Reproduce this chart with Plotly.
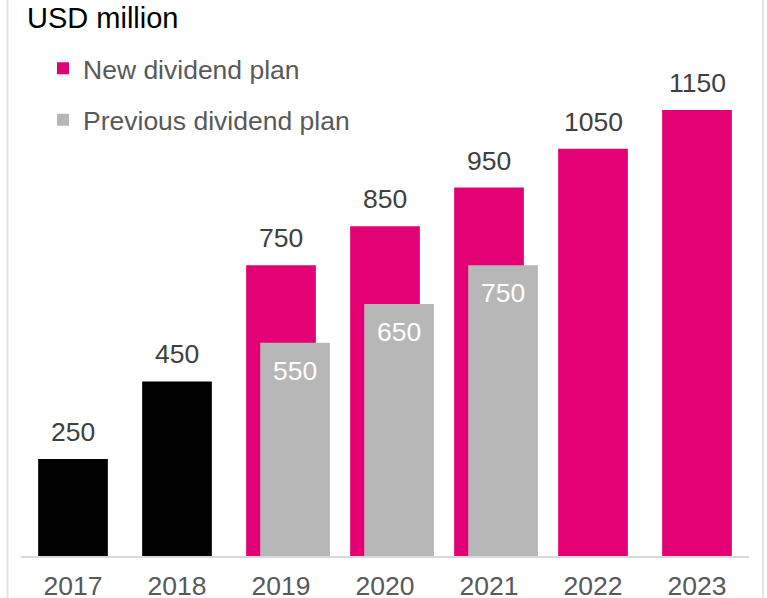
import plotly.graph_objects as go

years = [2017, 2018, 2019, 2020, 2021, 2022, 2023]
actual_years = [2017, 2018]
actual_values = [250, 450]
new_years = [2019, 2020, 2021, 2022, 2023]
new_values = [750, 850, 950, 1050, 1150]
prev_years = [2019, 2020, 2021]
prev_values = [550, 650, 750]
tick_labels = ["2017", "2018", "2019", "2020", "2021", "2022", "2023"]

MAGENTA = "#E20074"
GREY = "#B7B7B7"
FONT = "Liberation Sans, Arial, sans-serif"
BW = 0.67
SHIFT = 0.135
FS = 26.5

fig = go.Figure()
fig.add_trace(go.Bar(x=actual_years, y=actual_values, width=BW, marker_color="#000000",
                     marker_line_width=0, showlegend=False, name="Actual"))
fig.add_trace(go.Bar(x=new_years, y=new_values, width=BW, marker_color=MAGENTA,
                     marker_line_width=0, name="New dividend plan", legendgroup="a"))
fig.add_trace(go.Bar(x=prev_years, y=prev_values, width=BW, offset=-BW / 2 + SHIFT,
                     marker_color=GREY, marker_line_width=0,
                     name="Previous dividend plan", legendgroup="b"))

annotations = []
for xs, vs in ((actual_years, actual_values), (new_years, new_values)):
    for x, v in zip(xs, vs):
        annotations.append(dict(x=x, y=v, text=str(v), showarrow=False, yanchor="bottom",
                                yshift=10, font=dict(size=FS, color="#404040", family=FONT)))
for x, v in zip(prev_years, prev_values):
    annotations.append(dict(x=x + SHIFT, y=v, text=str(v), showarrow=False, yanchor="top",
                            yshift=-11, font=dict(size=FS, color="#FFFFFF", family=FONT)))
annotations.append(dict(xref="paper", yref="paper", x=(25 - 21) / 728, y=1.0,
                        xanchor="left", yanchor="top", yshift=0, text="USD million",
                        showarrow=False, font=dict(size=29, color="#000000", family=FONT)))

shapes = [
    dict(type="line", xref="paper", yref="paper", x0=(7.5 - 21) / 728, x1=(7.5 - 21) / 728,
         y0=-0.1, y1=1.05, line=dict(color="#E3E3E3", width=2)),
    dict(type="line", xref="paper", yref="paper", x0=(763 - 21) / 728, x1=(763 - 21) / 728,
         y0=-0.1, y1=1.05, line=dict(color="#E3E3E3", width=2)),
]

fig.update_layout(
    width=767, height=598,
    margin=dict(l=21, r=18, t=0, b=42, autoexpand=False),
    barmode="overlay",
    plot_bgcolor="white", paper_bgcolor="white",
    font=dict(family=FONT, size=FS, color="#595959"),
    xaxis=dict(range=[2016.5, 2023.5], tickvals=years, ticktext=tick_labels,
               showgrid=False, zeroline=False, showline=True, linecolor="#D9D9D9",
               linewidth=2, ticks="", ticklabelstandoff=5, automargin=False,
               tickfont=dict(size=FS, color="#595959")),
    yaxis=dict(range=[0, 556 / 0.3878], visible=False, showgrid=False, automargin=False),
    legend=dict(x=(43 - 21) / 728, y=0.92, xanchor="left", yanchor="top",
                font=dict(size=FS, color="#595959"), traceorder="grouped",
                tracegroupgap=14, bgcolor="rgba(0,0,0,0)"),
    annotations=annotations,
    shapes=shapes,
)

fig.write_html(
    "out.html",
    config={"displayModeBar": False},
    post_script=("document.body.style.margin='0';"
                 "document.body.style.overflow='hidden';"
                 "document.documentElement.style.overflow='hidden';"
                 "window.scrollTo(0,0);"),
)
